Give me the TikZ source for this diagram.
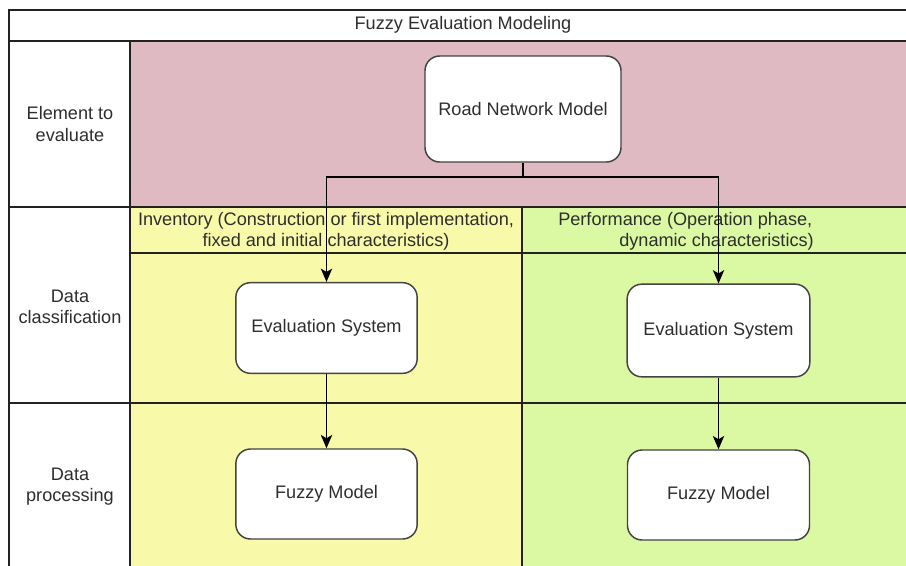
\documentclass[tikz,border=0pt]{standalone}
\usepackage{fontspec}
\setmainfont{Liberation Sans}
\usetikzlibrary{arrows.meta}

\definecolor{pinkrow}{HTML}{E0BAC2}
\definecolor{yellowcol}{HTML}{F9F9AA}
\definecolor{greencol}{HTML}{DAF9A2}
\definecolor{inkline}{HTML}{222222}
\definecolor{inktext}{HTML}{2E2E2E}

\tikzset{
  gridline/.style={draw=inkline, line width=0.9pt},
  procbox/.style={draw=inkline!85!white, fill=white, line width=1.1pt,
    rounded corners=11pt, inner sep=0pt, align=center, text=inktext},
  label/.style={align=center, text=inktext, inner sep=0pt},
  flow/.style={draw=black, line width=1pt,
    -{Stealth[length=10pt, width=8.5pt, inset=2.5pt]}},
}

\begin{document}
\begin{tikzpicture}[x=0.75pt, y=-0.75pt,
  font=\fontsize{13.6}{15.8}\selectfont]
  \clip (0,0) rectangle (906,565);
  \fill[white] (0,0) rectangle (906,565);

  % lane backgrounds
  \fill[pinkrow]   (130,41)  rectangle (914,207);
  \fill[yellowcol] (130,207) rectangle (522,571);
  \fill[greencol]  (522,207) rectangle (914,571);

  % table grid
  \draw[gridline] (9,10) rectangle (914,571);
  \draw[gridline] (9,41) -- (914,41);
  \draw[gridline] (130,41) -- (130,571);
  \draw[gridline] (9,207) -- (914,207);
  \draw[gridline] (130,253) -- (914,253);
  \draw[gridline] (9,403) -- (914,403);
  \draw[gridline] (522,207) -- (522,571);

  % headings
  \node[label] (title) at (463,25) {Fuzzy Evaluation Modeling};
  \node[label] (rowA) at (70,124) {Element to\\evaluate};
  \node[label] (rowB) at (70,307) {Data\\classification};
  \node[label] (rowC) at (70,487) {Data\\processing};
  \node[label] (colL) at (326,231)
    {Inventory (Construction or first implementation,\\fixed and initial characteristics)};
  \node[label, align=left, anchor=west] (colR) at (558,231)
    {Performance (Operation phase,\\\hspace*{45.75pt}dynamic characteristics)};

  % process boxes
  \node[procbox, minimum width=147pt, minimum height=79.5pt] (rnm) at (523,109) {Road Network Model};
  \node[procbox, minimum width=136pt, minimum height=68pt] (esL) at (326.5,328) {Evaluation System};
  \node[procbox, minimum width=137pt, minimum height=69.5pt] (esR) at (718.5,330.5) {Evaluation System};
  \node[procbox, minimum width=136pt, minimum height=67.5pt] (fmL) at (326.5,494) {Fuzzy Model};
  \node[procbox, minimum width=136.5pt, minimum height=67.5pt] (fmR) at (718.5,495) {Fuzzy Model};

  % connectors
  \coordinate (split) at (523,177);
  \draw[line width=1pt] (rnm.south) -- (split);
  \draw[flow] (split) -| (esL.north);
  \draw[flow] (split) -| (esR.north);
  \draw[flow] (esL.south) -- (fmL.north);
  \draw[flow] (esR.south) -- (fmR.north);
\end{tikzpicture}
\end{document}
